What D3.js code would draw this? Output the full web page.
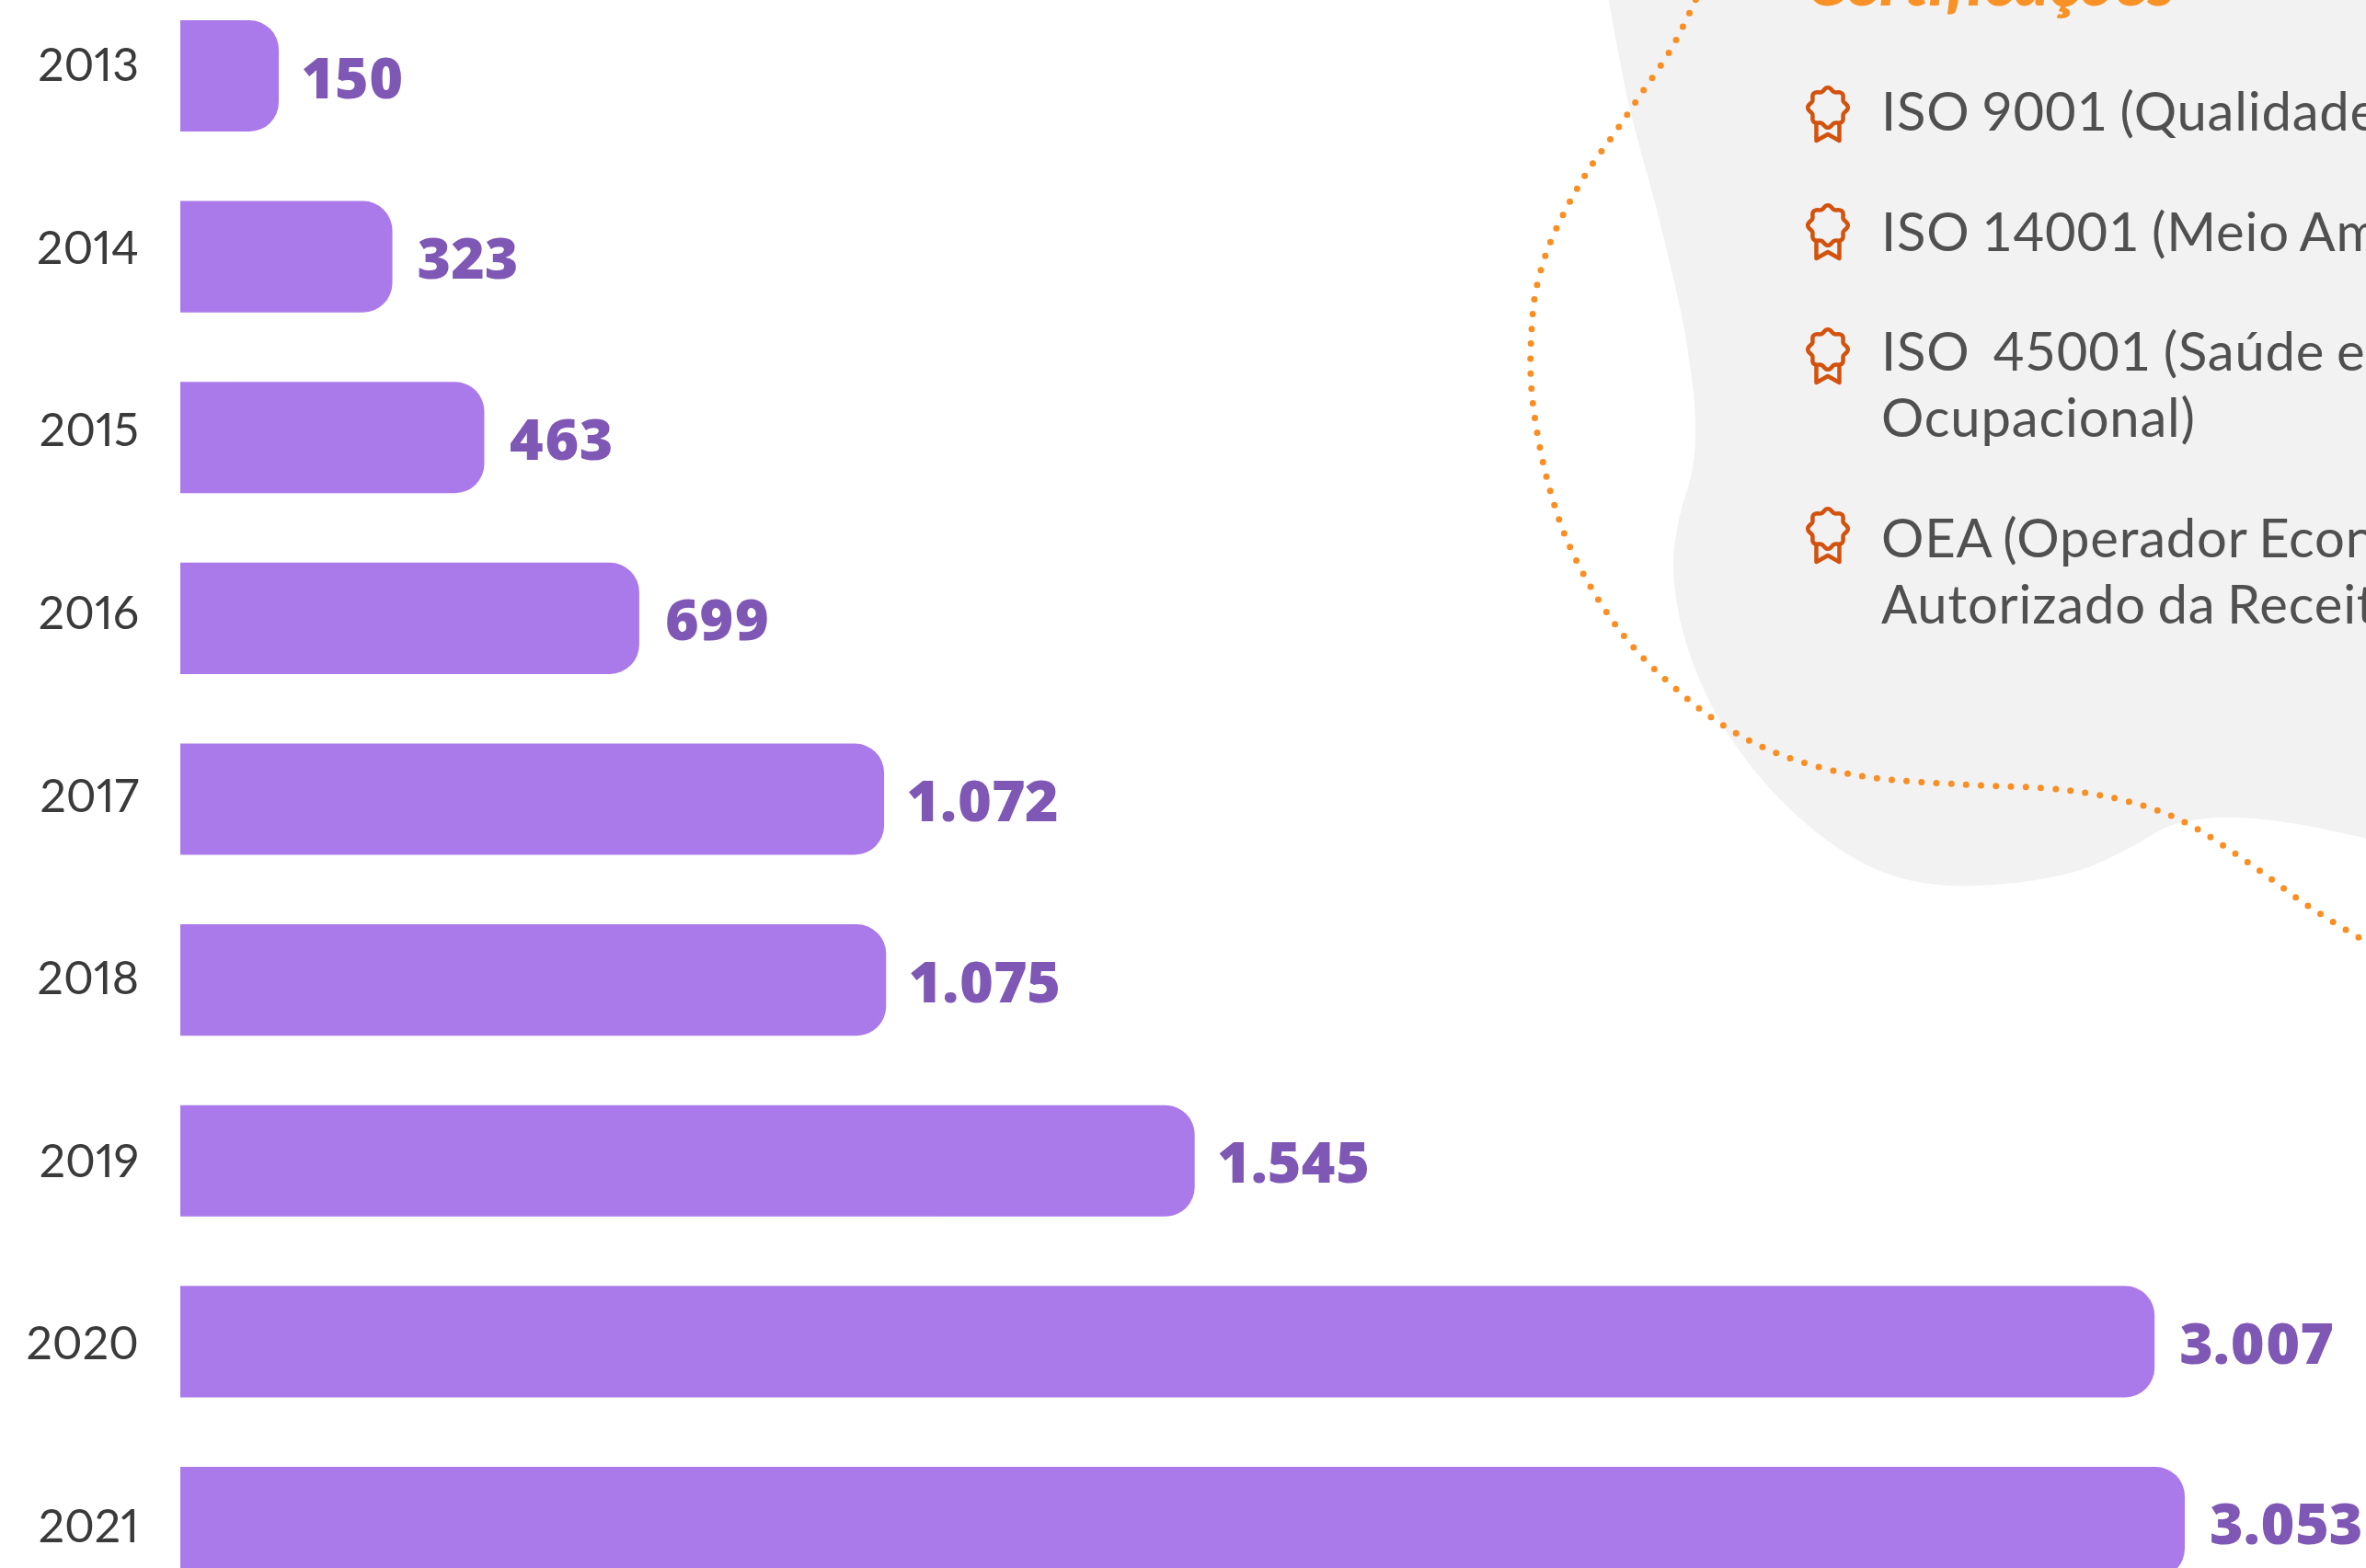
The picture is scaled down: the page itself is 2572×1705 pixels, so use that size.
<!DOCTYPE html>
<head>
  <title>Certificações</title>
  <meta charset="utf-8">
  <script src="https://d3js.org/d3.v7.min.js"></script>
  <style>
    html, body { margin: 0; padding: 0; background: #fff; overflow: hidden; }
    svg { display: block; }
    .year { font-family: Lato; font-weight: 400; font-size: 50px; fill: #3a3a3a; font-variant-numeric: proportional-nums; }
    .value { font-family: "Open Sans"; font-weight: 800; font-size: 62.5px; fill: #7f57b5; font-variant-numeric: proportional-nums; }
    .title { font-family: Lato; font-weight: 900; font-style: italic; font-size: 73.5px; fill: #f99226; }
    .cert { font-family: Lato; font-size: 58px; letter-spacing: 0.8px; word-spacing: -3px; fill: #505050; }
  </style>
</head>
<body>
  <div class="container"></div>
  <script type="text/javascript">
'use strict';
var width = 2572;
var height = 1705;

var years = ['2013', '2014', '2015', '2016', '2017', '2018', '2019', '2020', '2021'];
var values = [150, 323, 463, 699, 1072, 1075, 1545, 3007, 3053];
var valueLabels = ['150', '323', '463', '699', '1.072', '1.075', '1.545', '3.007', '3.053'];

var titleText = 'Certificações';
var certLines = [
  ['ISO 9001 (Qualidade)'],
  ['ISO 14001 (Meio Ambiente)'],
  ['ISO  45001 (Saúde e Segurança', 'Ocupacional)'],
  ['OEA (Operador Econômico', 'Autorizado da Receita Federal)']
];
var certBaselines = [[142], [273], [403, 475], [606, 678]];
var certIconY = [117, 245, 380, 575];

// background shape and dotted line
var blobPoints = [[1747, -10], [1771, 115], [1803, 236], [1832, 365], [1843, 459], [1839, 514], [1826, 561],
  [1819, 615], [1832, 696], [1874, 791], [1944, 878], [2026, 939], [2097, 961], [2179, 961], [2262, 946],
  [2315, 922], [2362, 897], [2415, 889], [2491, 895], [2590, 916]];
var dotPoints = [[1850, -15], [1818, 51], [1782, 105], [1755, 145], [1726, 186], [1702, 228], [1682, 272],
  [1669, 319], [1665, 358], [1664, 409], [1669, 458], [1682, 522], [1702, 584], [1732, 643], [1769, 696],
  [1815, 743], [1866, 784], [1924, 816], [1985, 836], [2038, 846], [2132, 853], [2245, 859], [2323, 874],
  [2377, 895], [2444, 938], [2509, 985], [2565, 1020], [2595, 1038]];

var svg = d3.select('.container')
  .append('svg')
  .attr('width', width)
  .attr('height', height);

var x = d3.scaleLinear().domain([0, 3053]).range([196, 2375]);
var y = d3.scaleBand().domain(years).range([22, 1716]).paddingInner(0.3845).paddingOuter(0);
// year labels drift a little against the bars in the original
var yLabel = d3.scalePoint().domain(years).range([88, 1677]);

var corner = 32;
function barPath(v, year) {
  var x0 = x(0), x1 = x(v), y0 = y(year), y1 = y0 + y.bandwidth();
  return 'M' + x0 + ',' + y0 + 'H' + (x1 - corner) + 'A' + corner + ',' + corner + ' 0 0 1 ' + x1 + ',' + (y0 + corner) +
    'V' + (y1 - corner) + 'A' + corner + ',' + corner + ' 0 0 1 ' + (x1 - corner) + ',' + y1 + 'H' + x0 + 'Z';
}

// blob
var blobLine = d3.line().curve(d3.curveCatmullRom.alpha(0.5));
svg.append('path')
  .attr('d', blobLine(blobPoints) + 'L2590,-10Z')
  .attr('fill', '#f2f2f2');

// dotted line
svg.append('path')
  .attr('d', blobLine(dotPoints))
  .attr('fill', 'none')
  .attr('stroke', '#f98f24')
  .attr('stroke-width', 7)
  .attr('stroke-linecap', 'round')
  .attr('stroke-dasharray', '0 16.2');

// bars
svg.selectAll('path.bar')
  .data(values)
  .enter().append('path')
  .attr('class', 'bar')
  .attr('fill', '#ab7aea')
  .attr('d', function (d, i) { return barPath(d, years[i]); });

svg.selectAll('text.year')
  .data(years)
  .enter().append('text')
  .attr('class', 'year')
  .attr('x', 151)
  .attr('y', function (d) { return yLabel(d); })
  .attr('text-anchor', 'end')
  .text(function (d) { return d; });

svg.selectAll('text.value')
  .data(valueLabels)
  .enter().append('text')
  .attr('class', 'value')
  .attr('x', function (d, i) { return x(values[i]) + 27; })
  .attr('y', function (d, i) { return y(years[i]) + y.bandwidth() / 2 + 24; })
  .text(function (d) { return d; });

// title, cut by the top edge as in the original
svg.append('text')
  .attr('class', 'title')
  .attr('x', 1963)
  .attr('y', 6)
  .text(titleText);

// certificate list
var items = svg.selectAll('g.item')
  .data(certLines)
  .enter().append('g')
  .attr('class', 'item');

items.each(function (lines, i) {
  var g = d3.select(this);
  lines.forEach(function (t, j) {
    g.append('text')
      .attr('class', 'cert')
      .attr('x', 2045)
      .attr('y', certBaselines[i][j])
      .attr('xml:space', 'preserve')
      .style('white-space', 'pre')
      .text(t);
  });

  // rosette icon
  var cy = certIconY[i];
  var cx = 1987;
  var pts = d3.range(0, 64).map(function (k) {
    var a = k / 64 * 2 * Math.PI;
    var r = 20 + 1.8 * Math.cos(8 * a);
    return [cx + r * Math.sin(a), cy - r * Math.cos(a)];
  });
  var icon = g.append('g')
    .attr('fill', 'none')
    .attr('stroke', '#d2520e')
    .attr('stroke-width', 4.5)
    .attr('stroke-linejoin', 'round')
    .attr('stroke-linecap', 'round');
  icon.append('path').attr('d', d3.line().curve(d3.curveCardinalClosed)(pts));
  icon.append('path').attr('d', 'M' + (cx - 12.5) + ',' + (cy + 17) + 'V' + (cy + 36) + 'L' + cx + ',' + (cy + 29) +
    'L' + (cx + 12.5) + ',' + (cy + 36) + 'V' + (cy + 17));
});
  </script>
</body>
